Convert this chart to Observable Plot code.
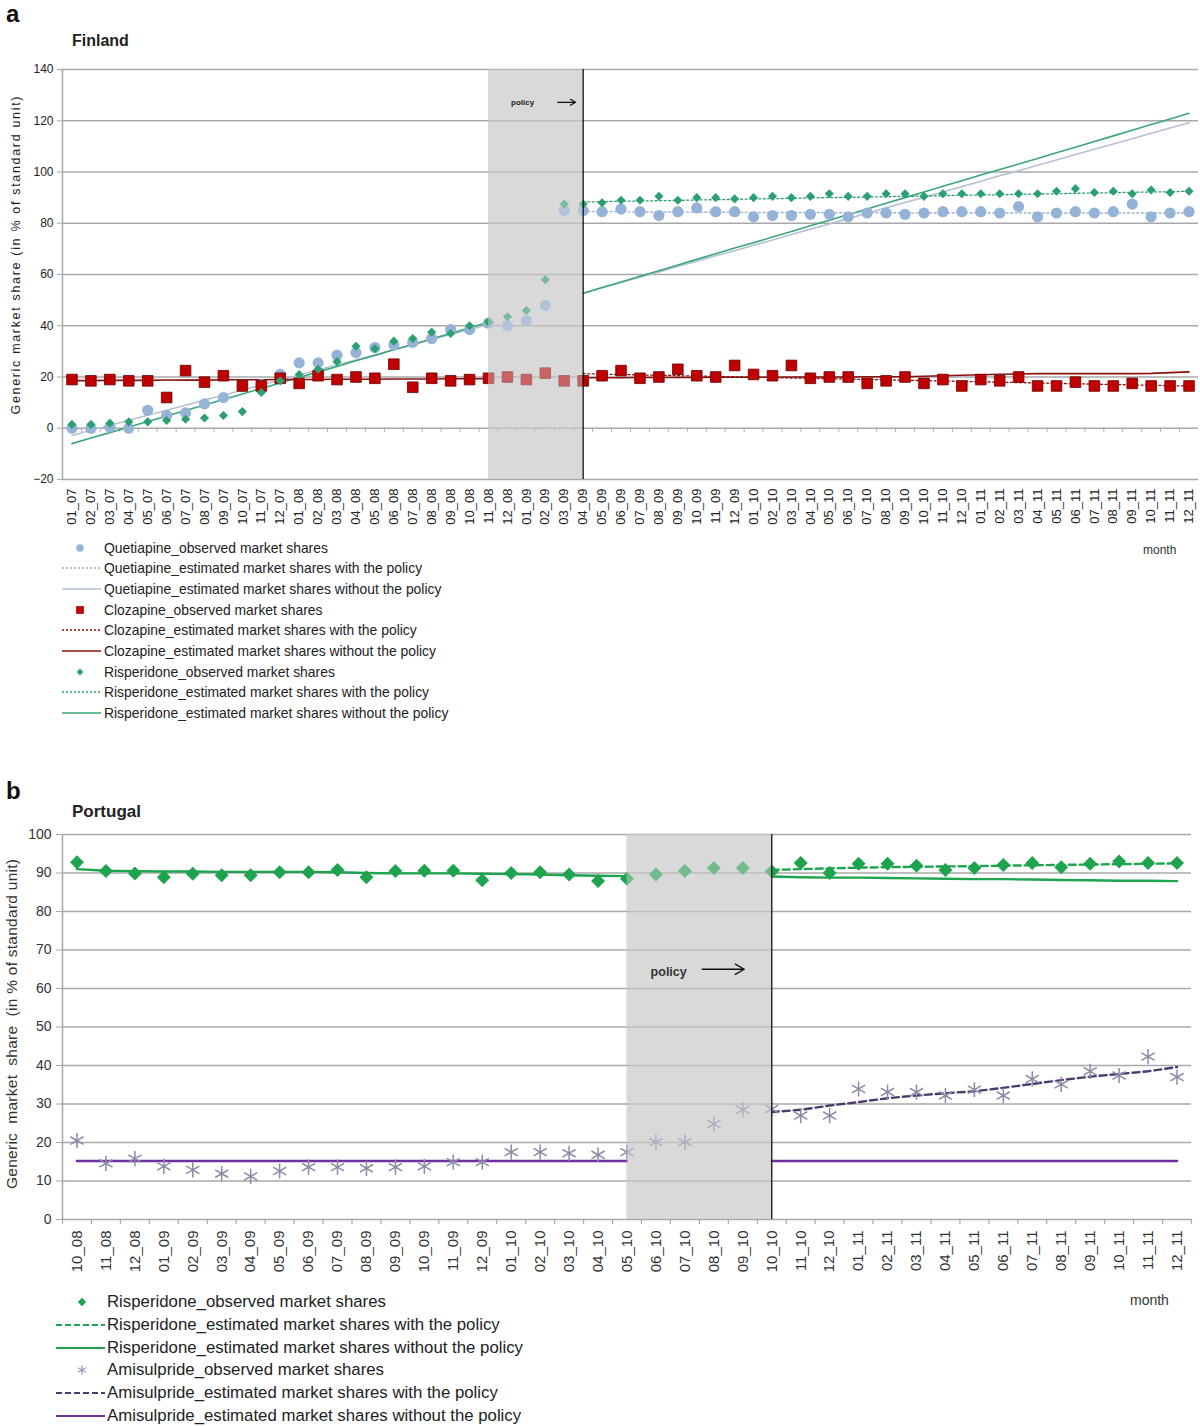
<!DOCTYPE html>
<html><head><meta charset="utf-8">
<script src="https://cdn.jsdelivr.net/npm/d3@7"></script>
<script src="https://cdn.jsdelivr.net/npm/@observablehq/plot@0.6"></script>
<style>
body{margin:0;background:#fff;font-family:"Liberation Sans",Arial,sans-serif;color:#222;}
#root{position:relative;width:1200px;height:1426px;overflow:hidden;}
.lg{position:absolute;display:flex;align-items:center;white-space:nowrap;}
</style></head><body><div id="root"></div>
<script>
// ---------------- Panel a : Finland ----------------
const monthsA = ["01_07","02_07","03_07","04_07","05_07","06_07","07_07","08_07","09_07","10_07","11_07","12_07",
"01_08","02_08","03_08","04_08","05_08","06_08","07_08","08_08","09_08","10_08","11_08","12_08",
"01_09","02_09","03_09","04_09","05_09","06_09","07_09","08_09","09_09","10_09","11_09","12_09",
"01_10","02_10","03_10","04_10","05_10","06_10","07_10","08_10","09_10","10_10","11_10","12_10",
"01_11","02_11","03_11","04_11","05_11","06_11","07_11","08_11","09_11","10_11","11_11","12_11"];
const shadeStartA = "11_08", policyA = "04_09";
const yTicksA = [-20,0,20,40,60,80,100,120,140];

const quetiapineObs = [0,0,0.5,0,7,5,6,9.5,12,16.5,17,21,25.5,25.5,28.5,29.5,31.5,32.5,33.5,35,38.5,38.5,41,40,42,48,85,85,
84.5,85.5,84.5,83,84.5,86,84.5,84.5,82.5,83,83,83.5,83.5,82.5,84,84,83.5,84,84.5,84.5,84.5,84,86.5,82.5,84,84.5,84,84.5,87.5,82.5,84,84.5];
const clozapineObs = [19,18.5,19,18.5,18.5,12,22.5,18,20.5,16.5,16.5,19.5,17.5,20.5,19,20,19.5,25,16,19.5,18.5,19,19.5,20,19,21.5,18.5,18.5,
20.5,22.5,19.5,20,23,20.5,20,24.5,21,20.5,24.5,19.5,20,20,17.5,18.5,20,17.5,19,16.5,19,18.5,20,16.5,16.5,18,16.5,16.5,17.5,16.5,16.5,16.5];
const risperidoneObsA = [1.5,1.5,2,2.5,2.5,3,3.5,4,5,6.5,14,18.5,21,23,26,32,31,34,35,37.5,37,40,41.5,43.5,46,58,87.5,87.5,
88,89,89,90.5,89,90,90,89.5,90,90.5,90,90.5,91.5,90.5,90.5,91.5,91.5,90.5,91.5,91.5,91.5,91.5,91.5,91.5,92.5,93.5,92,92.5,91.5,93,92,92.5];

// estimated lines (pre: 01_07–11_08, post: 04_09–12_11)
const quetiapineWithoutPre = [-2.8,-0.8,1.1,3.1,5.1,7.0,9.0,11.0,12.9,14.9,16.9,18.8,20.8,22.8,24.8,26.7,28.7,30.7,32.6,34.6,36.6,38.5,40.5];
const quetiapineWithoutPost = [52.7,54.8,56.9,58.9,61.0,63.1,65.2,67.3,69.3,71.4,73.5,75.6,77.7,79.7,81.8,83.9,86.0,88.1,90.1,92.2,94.3,96.4,98.5,100.5,102.6,104.7,106.8,108.9,110.9,113.0,115.1,117.2,119.2];
const quetiapineWith = [84.6,84.5,84.5,84.4,84.4,84.4,84.3,84.3,84.3,84.2,84.2,84.2,84.2,84.1,84.1,84.1,84.1,84.1,84.0,84.0,84.0,84.0,84.0,84.0,84.0,84.0,84.0,84.0,84.0,84.0,84.0,84.0,84.0];
const clozapineWithoutPre = [18.6,18.6,18.7,18.7,18.7,18.8,18.8,18.8,18.9,18.9,18.9,19.0,19.0,19.0,19.1,19.1,19.1,19.2,19.2,19.2,19.3,19.3,19.3];
const clozapineWithoutPost = [19.7,19.7,19.7,19.8,19.8,19.8,19.8,19.9,19.9,19.9,19.9,20.0,20.0,20.0,20.0,20.1,20.1,20.1,20.3,20.5,20.7,20.9,21.1,21.2,21.3,21.3,21.3,21.3,21.3,21.3,21.4,21.7,22.0];
const clozapineWith = [21.3,21.1,21.0,20.8,20.7,20.5,20.4,20.2,20.1,19.9,19.8,19.6,19.5,19.3,19.2,19.0,18.9,18.7,18.6,18.4,18.3,18.1,18.0,17.8,17.7,17.5,17.4,17.2,17.1,16.9,16.8,16.6,16.5];
const risperidoneWithoutPreA = [-6.0,-3.8,-1.7,0.5,2.6,4.8,6.9,9.1,11.2,13.4,15.5,17.7,19.8,22.0,24.1,26.3,28.4,30.6,32.7,34.9,37.0,39.2,41.4];
const risperidoneWithoutPostA = [52.7,54.9,57.1,59.3,61.5,63.7,65.9,68.1,70.3,72.4,74.6,76.8,79.0,81.2,83.4,85.6,87.8,90.0,92.2,94.4,96.6,98.8,101.0,103.1,105.3,107.5,109.7,111.9,114.1,116.3,118.5,120.7,122.9];
const risperidoneWithA = [88.3,88.4,88.6,88.7,88.8,88.9,89.1,89.2,89.3,89.5,89.6,89.7,89.9,90.0,90.1,90.2,90.4,90.5,90.6,90.8,90.9,91.0,91.1,91.3,91.4,91.5,91.7,91.8,91.9,92.1,92.2,92.3,92.5];

// ---------------- Panel b : Portugal ----------------
const monthsB = ["10_08","11_08","12_08","01_09","02_09","03_09","04_09","05_09","06_09","07_09","08_09","09_09","10_09","11_09","12_09",
"01_10","02_10","03_10","04_10","05_10","06_10","07_10","08_10","09_10","10_10","11_10","12_10",
"01_11","02_11","03_11","04_11","05_11","06_11","07_11","08_11","09_11","10_11","11_11","12_11"];
const shadeStartB = "05_10", policyB = "10_10";
const yTicksB = [0,10,20,30,40,50,60,70,80,90,100];

const risperidoneObsB = [92.8,90.5,89.9,88.9,89.8,89.4,89.4,90.2,90.2,90.8,88.9,90.5,90.6,90.6,88.1,90.0,90.2,89.6,87.9,88.5,
89.6,90.5,91.3,91.3,90.4,92.6,90.0,92.4,92.4,91.9,90.8,91.3,92.1,92.6,91.5,92.4,93.0,92.6,92.6];
const amisulprideObs = [20.5,14.6,15.8,13.8,12.9,11.9,11.2,12.6,13.6,13.6,13.3,13.6,13.8,14.9,14.9,17.5,17.5,17.2,16.8,17.5,
20.1,20.1,24.8,28.5,28.7,27.0,27.0,33.9,33.1,33.1,32.2,33.7,32.2,36.5,35.1,38.5,37.4,42.3,37.0];
// pre: 10_08–05_10, post: 10_10–12_11
const risperidoneWithoutPreB = [91.0,90.6,90.5,90.4,90.4,90.3,90.3,90.3,90.3,90.2,90.0,89.9,89.9,89.9,89.8,89.7,89.6,89.4,89.3,89.2];
const risperidoneWithoutPostB = [89.1,88.9,88.8,88.8,88.7,88.6,88.5,88.4,88.4,88.3,88.2,88.1,88.0,88.0,87.9];
const risperidoneWithB = [90.8,91.0,91.2,91.4,91.5,91.6,91.7,91.8,91.9,92.0,92.1,92.2,92.3,92.4,92.5];
const amisulprideWithoutPre = [15.2,15.2,15.2,15.2,15.2,15.2,15.2,15.2,15.2,15.2,15.2,15.2,15.2,15.2,15.2,15.2,15.2,15.2,15.2,15.2];
const amisulprideWithoutPost = [15.2,15.2,15.2,15.2,15.2,15.2,15.2,15.2,15.2,15.2,15.2,15.2,15.2,15.2,15.2];
const amisulprideWith = [27.9,28.5,29.6,30.5,31.5,32.2,32.8,33.3,34.2,35.2,36.2,37.1,37.8,38.5,39.6];

// ---------------- helpers ----------------
const root = document.getElementById("root");
const FONT = "Liberation Sans, Arial, sans-serif";
function seg(values, months, start) {
  const s = months.indexOf(start);
  return values.map((v, k) => ({x: s + k, y: v}));
}
function obs(values) { return values.map((v, i) => ({x: i, y: v})); }
function put(el, left, top) { el.style.position = "absolute"; el.style.left = left + "px"; el.style.top = top + "px"; root.appendChild(el); return el; }
function txt(t, left, top, css) { const d = document.createElement("div"); d.textContent = t; d.style.cssText = css; return put(d, left, top); }
function stretchText(svg, startsWith, len) {
  svg.querySelectorAll("text").forEach(t => {
    if (t.textContent.startsWith(startsWith)) { t.setAttribute("textLength", len); t.setAttribute("lengthAdjust", "spacing"); }
  });
}

const GRID = "#a8a8a8";

// ---------------- Panel a plot ----------------
{
  const n = monthsA.length;
  const s0 = monthsA.indexOf(shadeStartA), p = monthsA.indexOf(policyA);
  const shade = [{x1: s0, x2: p}];
  const bounds = monthsA.slice(1).map((m, i) => i + 0.5);
  const green = "#2c9f72", greenLine = "#3aa57c", blue = "#95b3d7", blueLine = "#b5c0d6", red = "#c00000", redLine = "#8b1010";
  const chart = Plot.plot({
    width: 1200, height: 539,
    marginTop: 69, marginBottom: 60, marginLeft: 62, marginRight: 2,
    style: {fontFamily: FONT, background: "transparent", color: "#222"},
    x: {domain: [-0.5, n - 0.5]},
    y: {domain: [-20, 140]},
    marks: [
      Plot.rect(shade, {x1: d => d.x1, x2: d => d.x2, y1: -20, y2: 140, fill: "#d9d9d9"}),
      Plot.ruleY(yTicksA, {stroke: GRID, strokeWidth: 1.5}),
      Plot.ruleX([-0.5], {y1: -20, y2: 140, stroke: GRID, strokeWidth: 1.5}),
      Plot.ruleX(bounds, {x: d => d, y1: 0, y2: 0, insetBottom: -4, stroke: GRID, strokeWidth: 1}),
      Plot.axisY(yTicksA, {tickSize: 5, tickPadding: 4, fontSize: 12, stroke: GRID, fill: "#222", label: null}),
      Plot.axisX(d3.range(n), {tickFormat: i => monthsA[i], tickRotate: -90, tickSize: 0, tickPadding: 9, fontSize: 13, fill: "#222", label: null}),
      Plot.text(["Generic market share (in % of standard unit)"], {frameAnchor: "left", textAnchor: "middle", rotate: -90, dx: -47, dy: -19, fontSize: 12.5, fill: "#222"}),
      // estimated without policy
      Plot.line(seg(quetiapineWithoutPre, monthsA, "01_07"), {x: "x", y: "y", stroke: blueLine, strokeWidth: 1.6}),
      Plot.line(seg(quetiapineWithoutPost, monthsA, policyA), {x: "x", y: "y", stroke: blueLine, strokeWidth: 1.6}),
      Plot.line(seg(risperidoneWithoutPreA, monthsA, "01_07"), {x: "x", y: "y", stroke: greenLine, strokeWidth: 1.6}),
      Plot.line(seg(risperidoneWithoutPostA, monthsA, policyA), {x: "x", y: "y", stroke: greenLine, strokeWidth: 1.6}),
      Plot.line(seg(clozapineWithoutPre, monthsA, "01_07"), {x: "x", y: "y", stroke: redLine, strokeWidth: 1.6}),
      Plot.line(seg(clozapineWithoutPost, monthsA, policyA), {x: "x", y: "y", stroke: redLine, strokeWidth: 1.6}),
      // estimated with policy
      Plot.line(seg(quetiapineWith, monthsA, policyA), {x: "x", y: "y", stroke: blue, strokeWidth: 1.3, strokeDasharray: "2,2.5"}),
      Plot.line(seg(clozapineWith, monthsA, policyA), {x: "x", y: "y", stroke: redLine, strokeWidth: 1.3, strokeDasharray: "2,2.5"}),
      Plot.line(seg(risperidoneWithA, monthsA, policyA), {x: "x", y: "y", stroke: green, strokeWidth: 1.3, strokeDasharray: "2,2.5"}),
      // observed
      Plot.dot(obs(quetiapineObs), {x: "x", y: "y", r: 5.6, fill: blue, stroke: "none"}),
      Plot.dot(obs(clozapineObs), {x: "x", y: "y", r: 6, symbol: "square", fill: red, stroke: "#6a0000", strokeWidth: 0.8}),
      Plot.dot(obs(risperidoneObsA), {x: "x", y: "y", r: 4.1, symbol: "diamond2", fill: green, stroke: "none"}),
      // policy overlay
      Plot.rect(shade, {x1: d => d.x1, x2: d => d.x2, y1: -20, y2: 140, fill: "#d9d9d9", fillOpacity: 0.45}),
      Plot.ruleX([p], {y1: -20, y2: 140, stroke: "#111", strokeWidth: 1.3}),
      Plot.text([{x: 23.8, y: 127.2}], {x: "x", y: "y", text: () => "policy", fontSize: 8, fontWeight: "bold", fill: "#222"}),
      Plot.arrow([{x1: 25.65, x2: 26.6, y: 127.2}], {x1: "x1", x2: "x2", y1: "y", y2: "y", stroke: "#111", strokeWidth: 1.2, headLength: 8})
    ]
  });
  stretchText(chart, "Generic", 318);
  put(chart, 0, 0);
}

// ---------------- Panel b plot ----------------
{
  const n = monthsB.length;
  const s0 = monthsB.indexOf(shadeStartB), p = monthsB.indexOf(policyB);
  const shade = [{x1: s0, x2: p}];
  const bounds = d3.range(n + 1).map(i => i - 0.5);
  const green = "#1ea34e", purple = "#7030a0", purpleDash = "#4e3a6e", gray = "#8a8aa8";
  const chart = Plot.plot({
    width: 1200, height: 519,
    marginTop: 74, marginBottom: 60, marginLeft: 62, marginRight: 9,
    style: {fontFamily: FONT, background: "transparent", color: "#333"},
    x: {domain: [-0.5, n - 0.5]},
    y: {domain: [0, 100]},
    marks: [
      Plot.rect(shade, {x1: d => d.x1, x2: d => d.x2, y1: 0, y2: 100, fill: "#d9d9d9"}),
      Plot.ruleY(yTicksB, {stroke: GRID, strokeWidth: 1.5}),
      Plot.ruleX([-0.5], {y1: 0, y2: 100, stroke: GRID, strokeWidth: 1.5}),
      Plot.ruleX(bounds, {x: d => d, y1: 0, y2: 0, insetBottom: -5, stroke: GRID, strokeWidth: 1.2}),
      Plot.axisY(yTicksB, {tickSize: 6, tickPadding: 5, fontSize: 14, stroke: GRID, fill: "#333", label: null}),
      Plot.axisX(d3.range(n), {tickFormat: i => monthsB[i], tickRotate: -90, tickSize: 0, tickPadding: 11, fontSize: 15, fill: "#333", label: null}),
      Plot.text(["Generic  market  share  (in % of standard unit)"], {frameAnchor: "left", textAnchor: "middle", rotate: -90, dx: -50, dy: -3, fontSize: 15.5, fill: "#333"}),
      Plot.line(seg(risperidoneWithoutPreB, monthsB, "10_08"), {x: "x", y: "y", stroke: green, strokeWidth: 2.4}),
      Plot.line(seg(risperidoneWithoutPostB, monthsB, policyB), {x: "x", y: "y", stroke: green, strokeWidth: 2.4}),
      Plot.line(seg(risperidoneWithB, monthsB, policyB), {x: "x", y: "y", stroke: green, strokeWidth: 2.4, strokeDasharray: "7,4"}),
      Plot.line(seg(amisulprideWithoutPre, monthsB, "10_08"), {x: "x", y: "y", stroke: purple, strokeWidth: 2.4}),
      Plot.line(seg(amisulprideWithoutPost, monthsB, policyB), {x: "x", y: "y", stroke: purple, strokeWidth: 2.4}),
      Plot.line(seg(amisulprideWith, monthsB, policyB), {x: "x", y: "y", stroke: purpleDash, strokeWidth: 2.4, strokeDasharray: "7,4"}),
      Plot.dot(obs(amisulprideObs), {x: "x", y: "y", r: 7.2, symbol: "asterisk", stroke: gray, strokeWidth: 1.5, fill: "none"}),
      Plot.dot(obs(risperidoneObsB), {x: "x", y: "y", r: 6.3, symbol: "diamond2", fill: green, stroke: "none"}),
      Plot.rect(shade, {x1: d => d.x1, x2: d => d.x2, y1: 0, y2: 100, fill: "#d9d9d9", fillOpacity: 0.45}),
      Plot.ruleX([p], {y1: 0, y2: 100, stroke: "#222", strokeWidth: 1.4}),
      Plot.text([{x: 20.44, y: 64.4}], {x: "x", y: "y", text: () => "policy", fontSize: 12.5, fontWeight: "bold", fill: "#333"}),
      Plot.arrow([{x1: 21.6, x2: 23.05, y: 65}], {x1: "x1", x2: "x2", y1: "y", y2: "y", stroke: "#111", strokeWidth: 1.4, headLength: 11})
    ]
  });
  stretchText(chart, "Generic", 330);
  put(chart, 0, 760);
}

// ---------------- titles ----------------
txt("a", 6, 2, `font:bold 24px ${FONT};line-height:24px;color:#111`);
txt("Finland", 72, 33, `font:bold 16px ${FONT};line-height:16px;color:#222`);
txt("month", 1143, 544, `font:12px ${FONT};line-height:12px;color:#333`);
txt("b", 6, 779, `font:bold 24px ${FONT};line-height:24px;color:#111`);
txt("Portugal", 72, 803, `font:bold 17px ${FONT};line-height:17px;color:#222`);
txt("month", 1130, 1293, `font:14px ${FONT};line-height:14px;color:#333`);

// ---------------- legends ----------------
function swatch(kind, color, w, cx, size, dash, sw) {
  const ns = "http://www.w3.org/2000/svg";
  const svg = document.createElementNS(ns, "svg");
  svg.setAttribute("width", w); svg.setAttribute("height", 20);
  let el;
  if (kind === "line") {
    el = document.createElementNS(ns, "line");
    el.setAttribute("x1", 1); el.setAttribute("x2", w - 2); el.setAttribute("y1", 10); el.setAttribute("y2", 10);
    el.setAttribute("stroke", color); el.setAttribute("stroke-width", sw);
    if (dash) el.setAttribute("stroke-dasharray", dash);
  } else {
    el = document.createElementNS(ns, "path");
    const sym = {circle: d3.symbolCircle, square: d3.symbolSquare, diamond: d3.symbolDiamond2, asterisk: d3.symbolAsterisk}[kind];
    el.setAttribute("d", d3.symbol(sym, size)());
    el.setAttribute("transform", `translate(${cx},10)`);
    if (kind === "asterisk") { el.setAttribute("fill", "none"); el.setAttribute("stroke", color); el.setAttribute("stroke-width", 1.2); }
    else el.setAttribute("fill", color);
  }
  svg.appendChild(el);
  return svg;
}
const legendA = [
  ["circle", "#95b3d7", null, "Quetiapine_observed market shares"],
  ["line", "#95b3d7", "2,2", "Quetiapine_estimated market shares with the policy"],
  ["line", "#b5c0d6", null, "Quetiapine_estimated market shares without the policy"],
  ["square", "#c00000", null, "Clozapine_observed market shares"],
  ["line", "#8b1010", "2,2", "Clozapine_estimated market shares with the policy"],
  ["line", "#8b1010", null, "Clozapine_estimated market shares without the policy"],
  ["diamond", "#2c9f72", null, "Risperidone_observed market shares"],
  ["line", "#2c9f72", "2,2", "Risperidone_estimated market shares with the policy"],
  ["line", "#3aa57c", null, "Risperidone_estimated market shares without the policy"]
];
legendA.forEach(([kind, color, dash, label], k) => {
  const row = document.createElement("div"); row.className = "lg";
  row.style.height = "20px";
  const sizes = {circle: 45, square: 60, diamond: 30};
  row.appendChild(swatch(kind, color, 42, 19, sizes[kind], dash, 1.3));
  const s = document.createElement("span"); s.textContent = label;
  s.style.cssText = `font:13.9px ${FONT};color:#222;margin-left:1px;`;
  row.appendChild(s);
  put(row, 61, 537.5 + k * 20.7);
});
const legendB = [
  ["diamond", "#1ea34e", null, "Risperidone_observed market shares"],
  ["line", "#1ea34e", "6,3", "Risperidone_estimated market shares with the policy"],
  ["line", "#1ea34e", null, "Risperidone_estimated market shares without the policy"],
  ["asterisk", "#9a9ab8", null, "Amisulpride_observed market shares"],
  ["line", "#4e3a6e", "6,3", "Amisulpride_estimated market shares with the policy"],
  ["line", "#7030a0", null, "Amisulpride_estimated market shares without the policy"]
];
legendB.forEach(([kind, color, dash, label], k) => {
  const row = document.createElement("div"); row.className = "lg";
  row.style.height = "20px";
  const sizes = {diamond: 45, asterisk: 60};
  row.appendChild(swatch(kind, color, 52, 27, sizes[kind], dash, 2.2));
  const s = document.createElement("span"); s.textContent = label;
  s.style.cssText = `font:16.8px ${FONT};color:#222;margin-left:0px;`;
  row.appendChild(s);
  put(row, 55, 1292 + k * 22.8);
});
</script></body></html>
